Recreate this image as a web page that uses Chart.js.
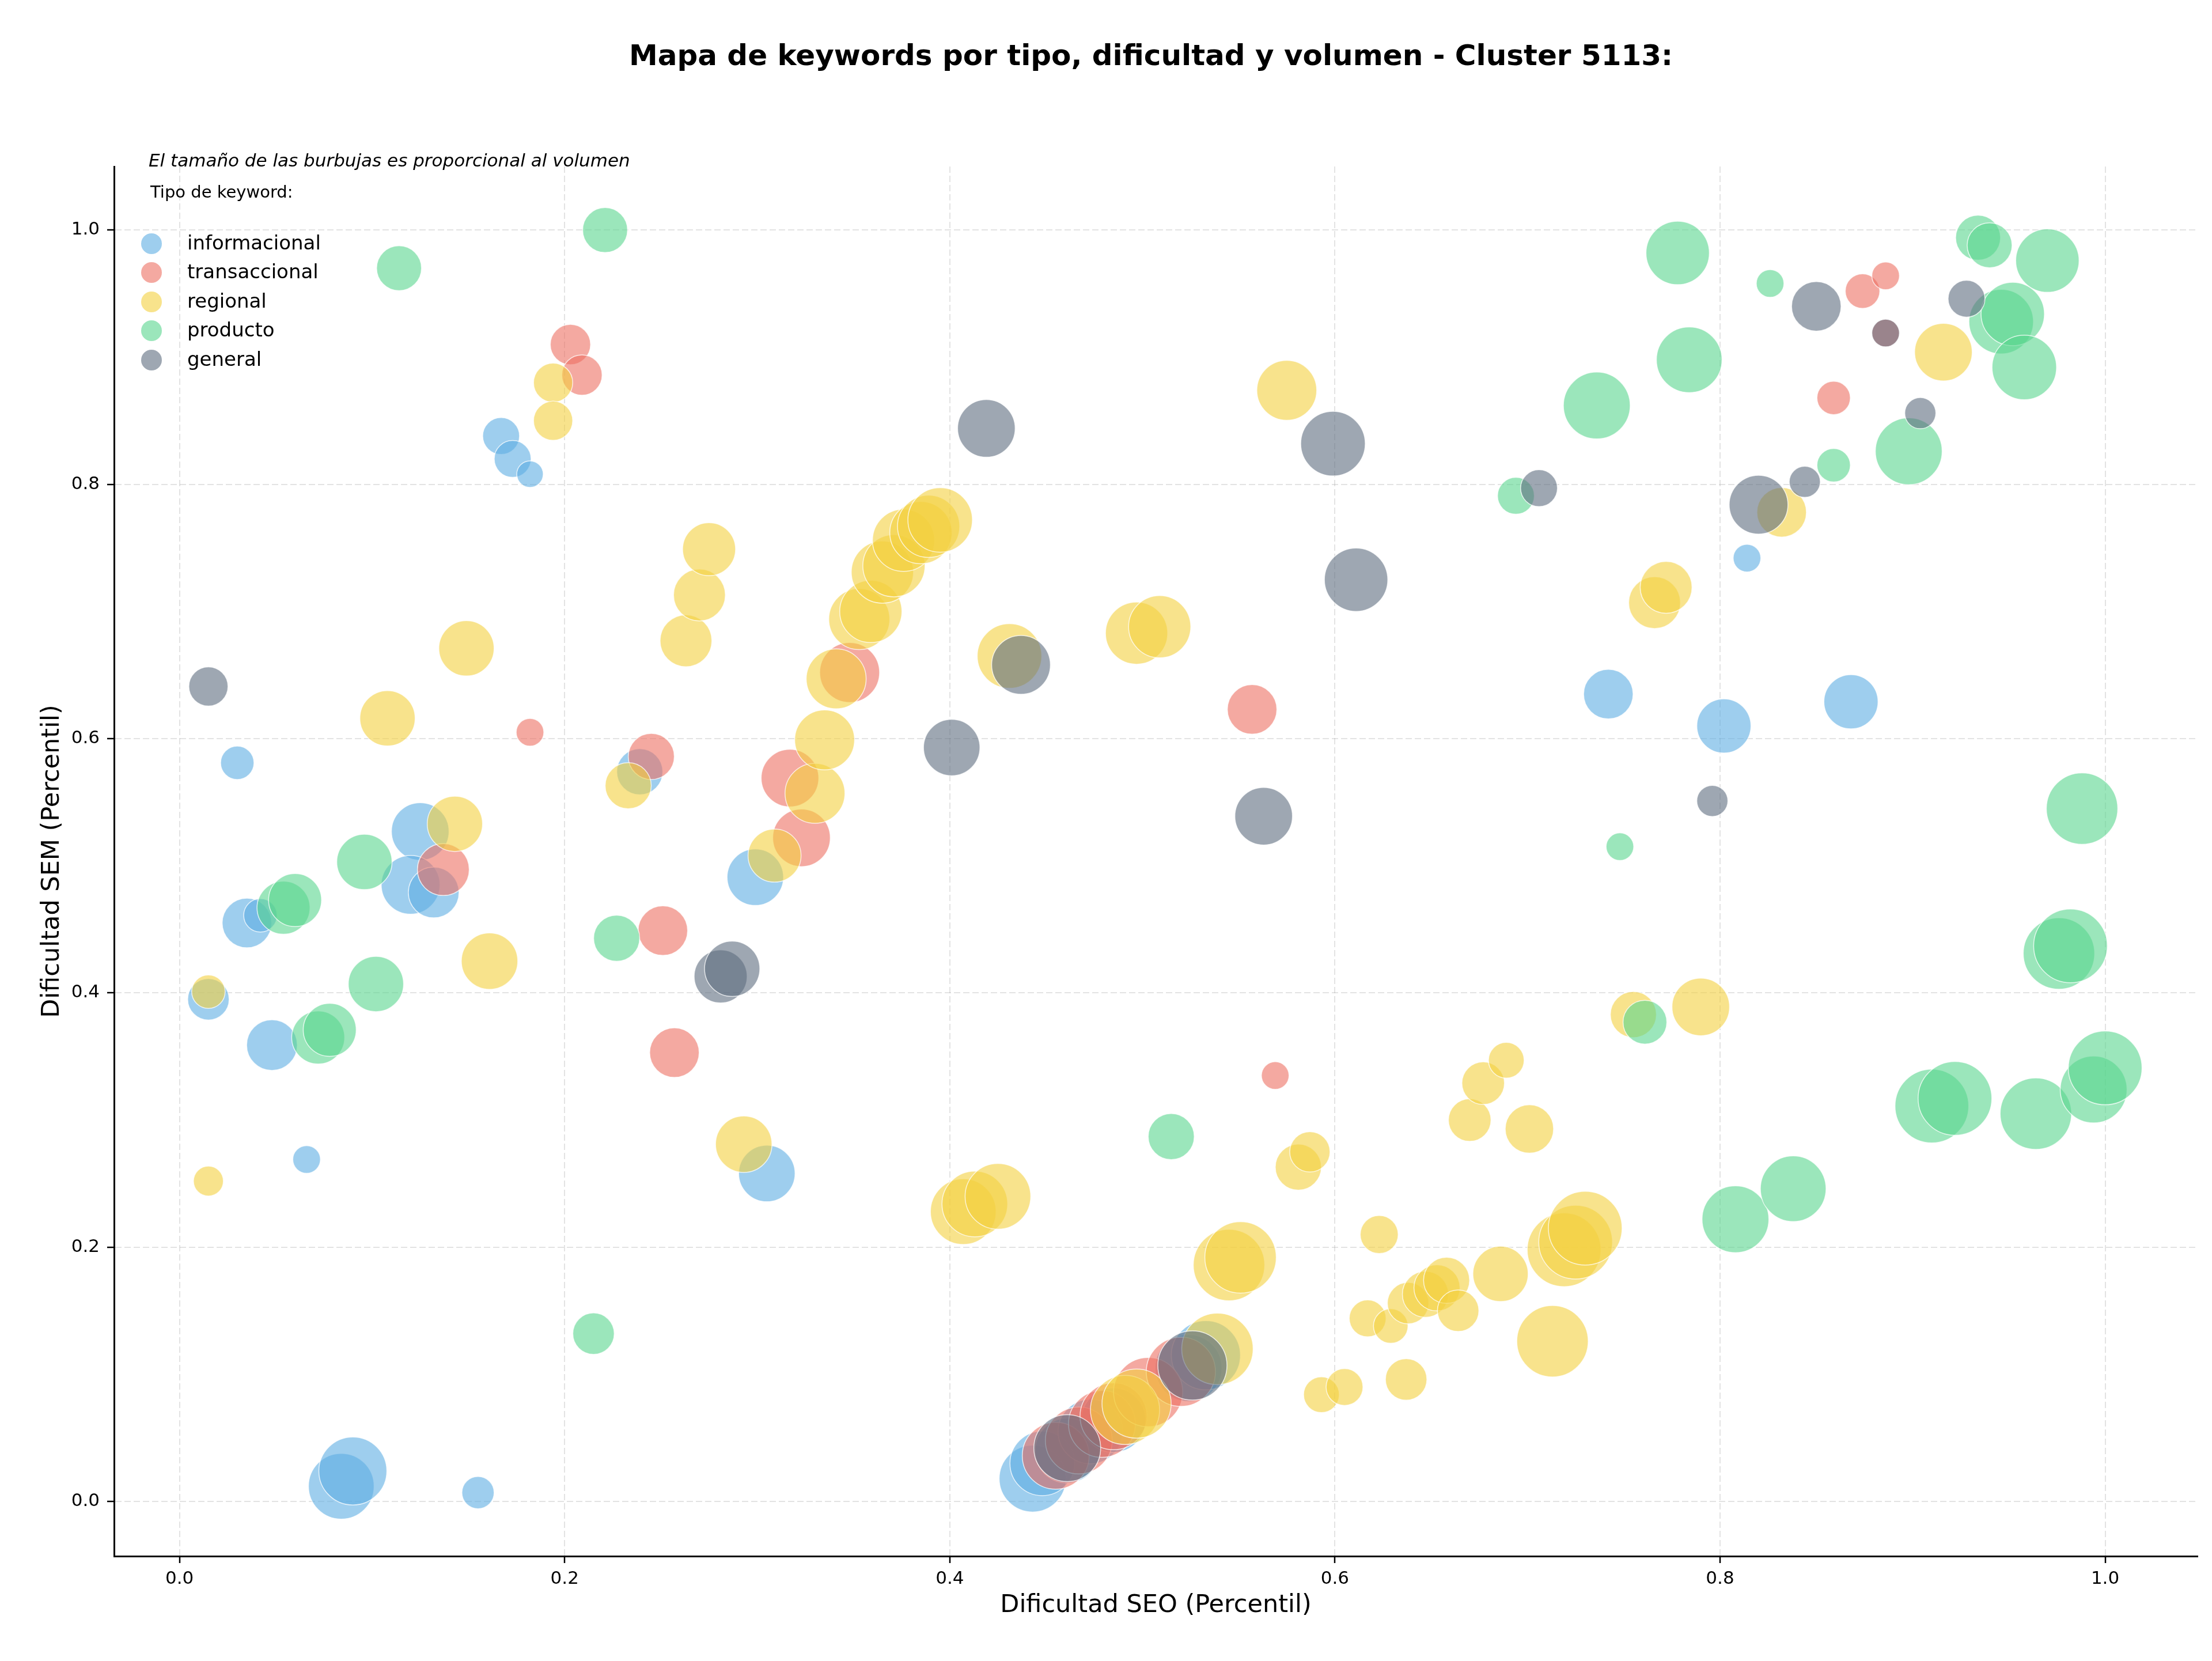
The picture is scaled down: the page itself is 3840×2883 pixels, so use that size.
<!DOCTYPE html>
<html><head><meta charset="utf-8">
<script src="https://cdn.jsdelivr.net/npm/chart.js@4/dist/chart.umd.min.js"></script>
<style>html,body{margin:0;padding:0;background:#fff}#wrap{width:3840px;height:2883px}</style>
</head><body><div id="wrap"><canvas id="c" width="3840" height="2883"></canvas></div>
<script>
const chartTitle = "Mapa de keywords por tipo, dificultad y volumen - Cluster 5113:";
const xLabel = "Dificultad SEO (Percentil)";
const yLabel = "Dificultad SEM (Percentil)";
const note = "El tamaño de las burbujas es proporcional al volumen";
const legendTitle = "Tipo de keyword:";
const categories = ["informacional", "transaccional", "regional", "producto", "general"];
const xTicks = [0.0, 0.2, 0.4, 0.6, 0.8, 1.0];
const yTicks = [0.0, 0.2, 0.4, 0.6, 0.8, 1.0];

// informacional
const seoInfo = [0.030,0.015,0.035,0.042,0.048,0.066,0.084,0.090,0.155,0.125,0.120,0.132,0.167,0.173,0.182,0.239,0.299,0.305,0.742,0.802,0.868,0.814,0.443,0.448,0.461,0.473,0.485,0.524,0.533];
const semInfo = [0.581,0.395,0.455,0.461,0.359,0.269,0.012,0.024,0.007,0.527,0.485,0.479,0.838,0.820,0.808,0.574,0.491,0.258,0.635,0.610,0.629,0.742,0.018,0.030,0.040,0.055,0.064,0.105,0.115];
const volInfo = [29,36,43,29,44,24,57,59,28,50,51,44,32,32,23,40,49,49,43,47,47,24,58,56,56,56,56,58,60];

// transaccional
const seoTrans = [0.203,0.209,0.182,0.245,0.317,0.323,0.348,0.137,0.251,0.257,0.557,0.569,0.874,0.886,0.859,0.886,0.455,0.467,0.479,0.485,0.503,0.520];
const semTrans = [0.910,0.886,0.605,0.586,0.569,0.522,0.652,0.497,0.449,0.353,0.623,0.335,0.952,0.964,0.868,0.919,0.036,0.048,0.061,0.067,0.086,0.102];
const volTrans = [35,35,24,40,50,50,52,45,43,43,43,24,30,24,29,24,58,58,58,58,60,60];

// regional
const seoReg = [0.015,0.015,0.108,0.149,0.143,0.161,0.194,0.194,0.233,0.263,0.270,0.275,0.293,0.309,0.330,0.335,0.341,0.353,0.359,0.365,0.371,0.376,0.385,0.389,0.395,0.431,0.497,0.509,0.575,0.407,0.413,0.425,0.545,0.551,0.581,0.587,0.593,0.605,0.617,0.623,0.629,0.637,0.638,0.647,0.653,0.658,0.664,0.670,0.677,0.689,0.686,0.701,0.713,0.719,0.725,0.730,0.755,0.790,0.766,0.772,0.832,0.916,0.491,0.497,0.539];
const semReg = [0.401,0.252,0.616,0.671,0.533,0.425,0.880,0.850,0.563,0.677,0.713,0.749,0.281,0.508,0.557,0.599,0.647,0.694,0.700,0.731,0.736,0.756,0.762,0.767,0.772,0.665,0.683,0.688,0.874,0.228,0.234,0.240,0.186,0.192,0.263,0.275,0.084,0.090,0.144,0.210,0.138,0.096,0.156,0.163,0.168,0.174,0.150,0.300,0.329,0.347,0.179,0.293,0.126,0.198,0.204,0.215,0.383,0.389,0.707,0.719,0.778,0.904,0.072,0.077,0.120];
const volReg = [29,26,48,48,48,49,34,34,40,45,45,46,49,46,52,52,52,53,54,54,54,54,54,54,56,56,54,54,52,57,57,57,62,62,40,35,31,32,32,33,30,36,36,40,40,40,36,37,37,31,48,42,62,64,64,64,40,50,45,45,43,50,60,60,62];

// producto
const seoProd = [0.221,0.114,0.096,0.054,0.060,0.102,0.072,0.078,0.227,0.215,0.515,0.694,0.736,0.778,0.784,0.826,0.859,0.898,0.934,0.940,0.970,0.946,0.952,0.958,0.748,0.988,0.761,0.976,0.982,0.910,0.922,0.964,0.994,1.000,0.808,0.838];
const semProd = [1.000,0.970,0.503,0.467,0.473,0.407,0.365,0.371,0.443,0.132,0.287,0.791,0.862,0.982,0.898,0.958,0.815,0.826,0.994,0.988,0.976,0.928,0.934,0.892,0.515,0.545,0.377,0.431,0.437,0.311,0.317,0.305,0.324,0.341,0.222,0.246];
const volProd = [39,39,48,46,46,48,46,46,40,36,40,32,58,55,57,24,29,58,39,39,55,56,55,56,24,62,38,62,64,64,64,62,58,64,58,57];

// general
const seoGen = [0.015,0.281,0.287,0.401,0.419,0.437,0.563,0.599,0.611,0.706,0.796,0.820,0.844,0.850,0.886,0.904,0.928,0.461,0.526];
const semGen = [0.641,0.413,0.419,0.593,0.844,0.658,0.539,0.832,0.725,0.797,0.551,0.784,0.802,0.940,0.919,0.856,0.946,0.042,0.107];
const volGen = [34,46,48,49,50,51,50,56,55,32,27,51,27,43,24,27,32,58,60];

const colors = ["rgba(93,173,226,0.6)", "rgba(236,112,99,0.6)", "rgba(244,208,63,0.6)", "rgba(88,214,141,0.6)", "rgba(93,109,126,0.6)"];
const seriesX = [seoInfo, seoTrans, seoReg, seoProd, seoGen];
const seriesY = [semInfo, semTrans, semReg, semProd, semGen];
const seriesV = [volInfo, volTrans, volReg, volProd, volGen];

const FONT = "'DejaVu Sans', 'Liberation Sans', sans-serif";

const datasets = categories.map((name, k) => ({
  label: name,
  data: seriesX[k].map((x, i) => ({x: x, y: seriesY[k][i], r: seriesV[k][i]})),
  backgroundColor: colors[k],
  borderColor: "rgba(255,255,255,0.75)",
  borderWidth: 1.5,
  hoverRadius: 0,
  order: 5 - k
}));

const overlay = {
  id: 'overlay',
  afterDraw(chart) {
    const ctx = chart.ctx;
    ctx.save();
    ctx.fillStyle = '#000';
    ctx.textAlign = 'center';
    ctx.textBaseline = 'middle';
    ctx.font = "bold 50px " + FONT;
    ctx.fillText(chartTitle, 1998, 100);
    ctx.textAlign = 'left';
    ctx.font = "italic 31px " + FONT;
    ctx.fillText(note, 258, 281);
    ctx.font = "29px " + FONT;
    ctx.fillText(legendTitle, 261, 335);
    const ys = [423, 473, 524, 574, 625];
    categories.forEach((name, k) => {
      ctx.beginPath();
      ctx.arc(263, ys[k], 18, 0, Math.PI * 2);
      ctx.fillStyle = colors[k];
      ctx.fill();
      ctx.fillStyle = '#000';
      ctx.font = "34px " + FONT;
      ctx.fillText(name, 325, ys[k] + 1);
    });
    ctx.restore();
  }
};

new Chart(document.getElementById('c'), {
  type: 'bubble',
  data: {datasets: datasets},
  plugins: [overlay],
  options: {
    responsive: false,
    devicePixelRatio: 1,
    animation: false,
    events: [],
    layout: {autoPadding: false, padding: {left: 0, right: 25, top: 289, bottom: 0}},
    plugins: {
      legend: {display: false},
      tooltip: {enabled: false},
      title: {display: false}
    },
    scales: {
      x: {
        type: 'linear', position: 'bottom', min: -0.034, max: 1.048,
        afterFit: s => { s.height = 182; },
        afterBuildTicks: s => { s.ticks = xTicks.map(v => ({value: v})); },
        ticks: {color: '#000', font: {family: FONT, size: 31}, padding: 9, maxRotation: 0, autoSkip: false,
          callback: v => Number(v).toFixed(1)},
        grid: {color: 'rgba(176,176,176,0.35)', lineWidth: 2, drawTicks: true, tickLength: 12,
          tickColor: '#000', tickWidth: 2.5, tickBorderDash: []},
        border: {display: true, color: '#000', width: 3, dash: [11, 5]},
        title: {display: true, text: xLabel, color: '#000', font: {family: FONT, size: 43, lineHeight: 1.2},
          padding: {top: 0, bottom: 70}}
      },
      y: {
        type: 'linear', position: 'left', min: -0.043, max: 1.05,
        afterFit: s => { s.width = 198; },
        afterBuildTicks: s => { s.ticks = yTicks.map(v => ({value: v})); },
        ticks: {color: '#000', font: {family: FONT, size: 31}, padding: 13, autoSkip: false,
          callback: v => Number(v).toFixed(1)},
        grid: {color: 'rgba(176,176,176,0.35)', lineWidth: 2, drawTicks: true, tickLength: 12,
          tickColor: '#000', tickWidth: 2.5, tickBorderDash: []},
        border: {display: true, color: '#000', width: 3, dash: [11, 5]},
        title: {display: true, text: yLabel, color: '#000', font: {family: FONT, size: 43, lineHeight: 1.2},
          padding: {top: 65, bottom: 0}}
      }
    }
  }
});
</script>
</body></html>
